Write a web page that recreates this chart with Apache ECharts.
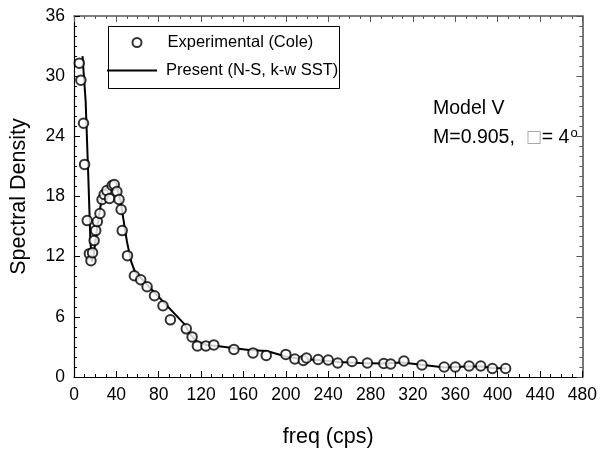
<!DOCTYPE html>
<html>
<head>
<meta charset="utf-8">
<script src="https://cdn.jsdelivr.net/npm/echarts@6/dist/echarts.min.js"></script>
<style>html,body{margin:0;padding:0;background:#fff}#c{width:600px;height:453px}</style>
</head>
<body>
<div id="c"></div>
<script>
const xTicks = [0, 40, 80, 120, 160, 200, 240, 280, 320, 360, 400, 440, 480];
const yTicks = [0, 6, 12, 18, 24, 30, 36];

const expFreq = [5, 6.5, 9, 10, 12.5, 14.5, 16, 17.5, 19, 20.5, 22, 24.5, 26.5, 28.5, 31, 33.5, 36, 38, 40.5, 42.5, 44.5, 45.5, 50.5, 57, 63, 69, 76, 84, 91, 106, 111.5, 116.5, 124.5, 132, 151, 169, 181.5, 200, 208.5, 216.5, 219.5, 230.5, 240, 249, 262.5, 277, 292.5, 299, 311.5, 328.5, 349.5, 360, 373, 384, 395, 407.5];
const expDensity = [31.3, 29.6, 25.3, 21.2, 15.6, 12.3, 11.6, 12.4, 13.6, 14.6, 15.5, 16.3, 17.7, 18.2, 18.6, 17.8, 19.1, 19.2, 18.5, 17.7, 16.7, 14.6, 12.1, 10.1, 9.7, 9.0, 8.1, 7.1, 5.7, 4.8, 4.0, 3.1, 3.1, 3.2, 2.75, 2.4, 2.15, 2.25, 1.8, 1.65, 1.9, 1.75, 1.7, 1.4, 1.55, 1.4, 1.35, 1.3, 1.6, 1.2, 1.0, 1.0, 1.1, 1.1, 0.85, 0.85];

const nsFreq = [8, 11, 13.5, 15.5, 17, 19, 22, 25, 28, 32, 36, 40, 44, 47, 50, 54, 57.5, 104, 110, 116.5, 125, 135, 165, 182, 200, 215, 230, 250, 270, 290, 310, 330, 350, 370, 385, 395, 408];
const nsDensity = [32.0, 27.5, 20.0, 13.5, 11.5, 12.5, 15.0, 17.0, 18.5, 19.0, 19.5, 19.2, 17.5, 15.5, 13.5, 11.5, 10.5, 5.3, 4.2, 3.5, 3.2, 3.1, 2.7, 2.6, 2.05, 1.8, 1.7, 1.5, 1.4, 1.35, 1.45, 1.2, 0.95, 1.05, 1.05, 0.9, 0.85];

const expName = 'Experimental (Cole)';
const nsName = 'Present (N-S, k-w SST)';

const expData = expFreq.map((f, i) => [f, expDensity[i]]);
const nsData = nsFreq.map((f, i) => [f, nsDensity[i]]);

const FONT = 'Liberation Sans, Arial, sans-serif';
const chart = echarts.init(document.getElementById('c'), null, {renderer: 'canvas'});

function mkAxis(main, extra) {
  const col = main ? '#000' : '#555';
  return Object.assign({
    type: 'value', min: 0,
    axisLine: {show: true, onZero: false, lineStyle: {color: col, width: main ? 1.2 : 1.6}},
    axisTick: {show: true, inside: true, length: 6, lineStyle: {color: col}},
    splitLine: {show: false},
    axisLabel: {show: main, color: '#000', fontFamily: FONT, fontSize: 17.5, margin: 9}
  }, extra);
}

chart.setOption({
  animation: false,
  backgroundColor: '#fff',
  grid: {left: 72, right: 15, top: 16, bottom: 73},
  xAxis: [
    mkAxis(true, {
      max: 480, interval: 40, position: 'bottom',
      minorTick: {show: true, splitNumber: 4, length: 3, lineStyle: {color: '#000'}},
      axisLabel: {color: '#000', fontFamily: FONT, fontSize: 17.5, margin: 9,
        formatter: v => xTicks.includes(v) ? String(v) : ''},
      name: 'freq (cps)', nameLocation: 'middle', nameGap: 49,
      nameTextStyle: {color: '#000', fontFamily: FONT, fontSize: 21.5}
    }),
    mkAxis(false, {
      max: 480, interval: 40, position: 'top',
      minorTick: {show: true, splitNumber: 4, length: 3, lineStyle: {color: '#555'}}
    })
  ],
  yAxis: [
    mkAxis(true, {
      max: 36, interval: 6, position: 'left',
      minorTick: {show: true, splitNumber: 6, length: 3, lineStyle: {color: '#000'}},
      axisLabel: {color: '#000', fontFamily: FONT, fontSize: 17.5, margin: 9,
        formatter: v => yTicks.includes(v) ? String(v) : ''},
      name: 'Spectral Density', nameLocation: 'middle', nameGap: 44,
      nameTextStyle: {color: '#000', fontFamily: FONT, fontSize: 21.5}
    }),
    mkAxis(false, {
      max: 36, interval: 6, position: 'right',
      minorTick: {show: true, splitNumber: 6, length: 3, lineStyle: {color: '#555'}}
    })
  ],
  legend: [
    {
      left: 131.5, top: 34, padding: 0,
      itemWidth: 9, itemHeight: 9,
      icon: 'circle',
      itemStyle: {color: '#fff', borderColor: '#000', borderWidth: 2},
      textStyle: {color: '#000', fontFamily: FONT, fontSize: 16.5, padding: [0, 0, 0, 21]},
      data: [expName]
    },
    {
      left: 107, top: 62, padding: 0,
      itemWidth: 50, itemHeight: 2,
      icon: 'rect',
      itemStyle: {color: '#000', borderWidth: 0},
      textStyle: {color: '#000', fontFamily: FONT, fontSize: 16.5, padding: [0, 0, 0, 4]},
      data: [nsName]
    }
  ],
  graphic: [
    {type: 'rect', left: 106, top: 24, shape: {width: 231, height: 62},
      style: {fill: 'none', stroke: '#000', lineWidth: 1}, z: 1},
    {type: 'text', left: 433, top: 99, style: {text: 'Model V', fill: '#000', font: '19.5px ' + FONT}},
    {type: 'text', left: 433, top: 127, style: {
      text: '{a|M=0.905,  }{b|□}{a|= 4}{c|o}',
      rich: {
        a: {fill: '#000', fontSize: 19.5, fontFamily: FONT},
        b: {fill: '#aaa', fontSize: 17, fontFamily: 'DejaVu Sans'},
        c: {fill: '#000', fontSize: 13, fontFamily: FONT, verticalAlign: 'top', padding: [0, 0, 9, 1]}
      }
    }}
  ],
  series: [
    {
      name: nsName, type: 'line', data: nsData,
      xAxisIndex: 0, yAxisIndex: 0,
      symbol: 'none', lineStyle: {color: '#000', width: 2}, itemStyle: {color: '#000'},
      z: 2
    },
    {
      name: expName, type: 'scatter', data: expData,
      xAxisIndex: 0, yAxisIndex: 0,
      symbol: 'circle', symbolSize: 9.5,
      itemStyle: {color: '#fff', borderColor: '#000', borderWidth: 2},
      z: 3
    }
  ]
});
</script>
</body>
</html>
